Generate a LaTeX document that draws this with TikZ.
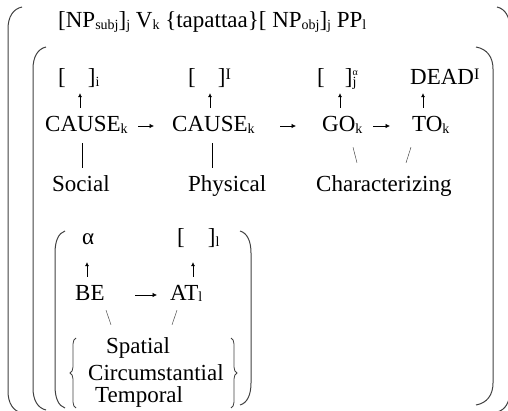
\documentclass[tikz,border=0pt]{standalone}
\usepackage{fontspec}
\setmainfont{Liberation Serif}
\usetikzlibrary{calc,decorations.pathreplacing,arrows.meta}
\newcommand{\lsub}[1]{\raisebox{-0.08em}{\fontsize{14}{14}\selectfont #1}}
\newcommand{\lsup}[1]{\raisebox{0.22em}{\fontsize{16}{16}\selectfont #1}}
\newcommand{\lsupsub}[2]{\rlap{\raisebox{0.42em}{\fontsize{10}{10}\selectfont #1}}\lsub{#2}}
\newcommand{\mylparen}[4]{\draw[par] (#1+#4,#2) .. controls (#1+0.35*#4,#2+2) and (#1,#2+10) .. (#1,#2+22) -- (#1,#3-22) .. controls (#1,#3-10) and (#1+0.35*#4,#3-2) .. (#1+#4,#3);}
\newcommand{\myrparen}[4]{\draw[par] (#1-#4,#2) .. controls (#1-0.35*#4,#2+2) and (#1,#2+10) .. (#1,#2+22) -- (#1,#3-22) .. controls (#1,#3-10) and (#1-0.35*#4,#3-2) .. (#1-#4,#3);}
\begin{document}
\begin{tikzpicture}[x=1pt,y=-1pt,
  lbl/.style={inner sep=0pt, anchor=base west, text height=16pt, text depth=6pt, font=\fontsize{23}{27}\selectfont},
  uarr/.style={-{Latex[length=4pt,width=4pt]}, line width=0.6pt},
  harr/.style={-{Latex[length=4.5pt,width=4.5pt]}, line width=0.6pt},
  bar/.style={line width=0.9pt},
  thin/.style={line width=0.5pt, black!70},
  par/.style={line width=1pt, black!75},
  brc/.style={line width=0.8pt, black!75, decorate, decoration={brace, amplitude=6pt}},
  ]
\useasboundingbox (0,0) rectangle (508,411);
\clip (0,0) rectangle (508,411);
% parentheses
\mylparen{8}{7}{413}{14}
\mylparen{33}{47}{410}{13}
\mylparen{55}{231}{408}{10}
\myrparen{510}{7}{412}{13}
\myrparen{493}{47}{405}{17}
\myrparen{251}{231}{405}{11}
% top line
\node[lbl] (top) at (58,28) {[NP\lsub{subj}]\lsub{j} V\lsub{k} \{tapattaa\}[ NP\lsub{obj}]\lsub{j} PP\lsub{l}};
% row 1
\node[lbl] (b1) at (58,85) {[\hspace{22pt}]\lsub{i}};
\node[lbl] (b2) at (188,85) {[\hspace{22pt}]\lsup{I}};
\node[lbl] (b3) at (317,85) {[\hspace{20pt}]\lsupsub{α}{j}};
\node[lbl] (dead) at (410,85) {DEAD\lsup{I}};
% row 2
\node[lbl] (c1) at (45,132) {CAUSE\lsub{k}};
\node[lbl] (c2) at (172,132) {CAUSE\lsub{k}};
\node[lbl] (go) at (322,132) {GO\lsub{k}};
\node[lbl] (tonode) at (412,132) {TO\lsub{k}};
% row 3
\node[lbl] (soc) at (52,192) {Social};
\node[lbl] (phys) at (188,192) {Physical};
\node[lbl] (char) at (316,192) {Characterizing};
% BE box
\node[lbl] (alpha) at (82,245) {α};
\node[lbl] (bl) at (177,245) {[\hspace{23pt}]\lsub{l}};
\node[lbl] (be) at (75,300) {BE};
\node[lbl] (at) at (170,300) {AT\lsub{l}};
\node[lbl] (spat) at (106,353) {Spatial};
\node[lbl] (circ) at (88,380) {Circumstantial};
\node[lbl] (temp) at (95,402) {Temporal};
% row 1 arrows
\draw[uarr] ($(c1.north west)+(35,-8)$) -- ($(b1.south west)+(22,2)$);
\draw[uarr] ($(c2.north west)+(38,-8)$) -- ($(b2.south west)+(22,2)$);
\draw[uarr] ($(go.north west)+(18,-8)$) -- ($(b3.south west)+(23,2)$);
\draw[uarr] ($(tonode.north west)+(11,-8)$) -- ($(dead.south west)+(13,2)$);
% horizontal arrows
\draw[harr] ($(c1.base west)+(93,-6)$) -- ($(c2.base west)+(-18,-6)$);
\draw[harr] ($(c2.base west)+(108,-6)$) -- ($(go.base west)+(-26,-6)$);
\draw[harr] ($(go.base west)+(51,-6)$) -- ($(tonode.base west)+(-22,-6)$);
% lines to row 3
\draw[bar] ($(c1.south west)+(37,5)$) -- ($(soc.north west)+(30,-8)$);
\draw[bar] ($(c2.south west)+(40,5)$) -- ($(phys.north west)+(24,-8)$);
\draw[thin] ($(go.south west)+(31,9)$) -- ($(char.north west)+(41,-13)$);
\draw[thin] ($(tonode.south west)+(-1,9)$) -- ($(char.north west)+(90,-13)$);
% BE box connectors
\draw[uarr] ($(be.north west)+(12,-7)$) -- ($(alpha.south west)+(5,11)$);
\draw[uarr] ($(at.north west)+(23,-7)$) -- ($(bl.south west)+(16,11)$);
\draw[harr] ($(be.base west)+(60,-5)$) -- ($(at.base west)+(-13,-5)$);
\draw[thin] ($(be.south west)+(31,4)$) -- ($(spat.north west)+(5,-12)$);
\draw[thin] ($(at.south west)+(7,4)$) -- ($(spat.north west)+(66,-12)$);
% braces
\draw[brc] (76,408) -- (76,338);
\draw[brc] (231,338) -- (231,408);
\end{tikzpicture}
\end{document}
